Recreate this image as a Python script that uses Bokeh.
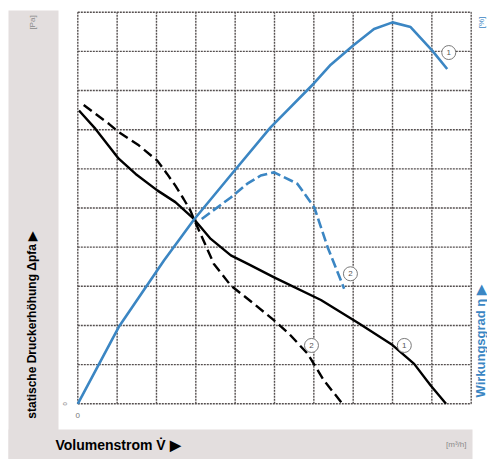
from bokeh.plotting import figure
from bokeh.models import Range1d
from bokeh.core.properties import value
from bokeh.embed import file_html
from bokeh.resources import INLINE

# ---------------- data (grid units, 0..10 on both axes) ----------------
grid_x = list(range(0, 11))
grid_y = list(range(0, 11))

# static pressure, curve 1 (solid black)
press1_x = [0.03, 0.45, 1.04, 1.47, 2.02, 2.48, 2.95, 3.38, 3.89, 4.31, 4.99, 6.18, 7.15, 8.0, 8.55, 8.97, 9.36]
press1_y = [7.49, 7.02, 6.26, 5.87, 5.45, 5.15, 4.72, 4.21, 3.79, 3.58, 3.23, 2.65, 2.05, 1.50, 1.02, 0.47, 0.0]

# static pressure, curve 2 (dashed black)
press2_x = [0.15, 0.79, 1.04, 1.55, 2.02, 2.27, 2.48, 2.69, 2.86, 2.95, 3.12, 3.46, 3.89, 4.48, 4.99, 5.37, 5.84, 6.26, 6.73]
press2_y = [7.63, 7.15, 6.94, 6.60, 6.21, 5.87, 5.57, 5.23, 4.94, 4.72, 4.34, 3.57, 3.02, 2.55, 2.13, 1.79, 1.28, 0.59, 0.0]

# efficiency, curve 1 (solid blue)
eff1_x = [0.0, 1.04, 2.19, 2.95, 3.88, 4.90, 6.0, 6.43, 7.0, 7.53, 8.0, 8.46, 9.01, 9.39]
eff1_y = [0.0, 1.96, 3.66, 4.70, 5.83, 7.06, 8.18, 8.66, 9.15, 9.57, 9.74, 9.62, 9.02, 8.55]

# efficiency, curve 2 (dashed blue)
eff2_x = [3.15, 3.89, 4.31, 4.65, 4.99, 5.58, 6.01, 6.35, 6.77]
eff2_y = [4.72, 5.27, 5.62, 5.83, 5.91, 5.62, 5.02, 4.00, 2.94]

# curve number markers
mark_x = [9.43, 6.93, 8.30, 5.94]
mark_y = [8.97, 3.32, 1.49, 1.49]
mark_text = ["1", "2", "1", "2"]

# ---------------- layout ----------------
W, H = 487, 459
X0, X1 = 77.3, 470.7      # canvas px of grid x = 0 and x = 10
Y0, Y1 = 403.3, 11.7      # canvas px of grid y = 0 and y = 10
SX = (X1 - X0) / 10.0
SY = (Y0 - Y1) / 10.0


def dx(px):
    return (px - X0) / SX


def dy(py):
    return (Y0 - py) / SY


BLUE = "#3b86c3"
GRAY_BAND = "#e3dede"
GRID = "#554f4f"
FONT = value("Liberation Sans")

p = figure(width=W, height=H,
           x_range=Range1d(dx(0), dx(W)), y_range=Range1d(dy(H), dy(0)),
           output_backend="svg", toolbar_location=None,
           x_axis_location=None, y_axis_location=None,
           min_border=0, outline_line_color=None)
p.xgrid.visible = False
p.ygrid.visible = False
p.background_fill_color = "white"
p.border_fill_color = "white"

# gray label bands (left and bottom)
p.quad(left=[dx(8), dx(8)], right=[dx(58), dx(472)],
       top=[dy(10), dy(429)], bottom=[dy(H), dy(H)],
       fill_color=GRAY_BAND, line_color=None)

# grid
p.segment(x0=grid_x, y0=[grid_y[0]] * len(grid_x), x1=grid_x, y1=[grid_y[-1]] * len(grid_x),
          line_color=GRID, line_width=1.4, line_dash="2 1")
p.segment(x0=[grid_x[0]] * len(grid_y), y0=grid_y, x1=[grid_x[-1]] * len(grid_y), y1=grid_y,
          line_color=GRID, line_width=1.4, line_dash="2 1")

# curves
p.line(press1_x, press1_y, line_color="black", line_width=2.4, line_join="round")
p.line(press2_x, press2_y, line_color="black", line_width=2.4, line_dash="10 5", line_join="round")
p.line(eff1_x, eff1_y, line_color=BLUE, line_width=2.6, line_join="round")
p.line(eff2_x, eff2_y, line_color=BLUE, line_width=2.6, line_dash="10 4", line_join="round")

# curve markers
p.scatter(mark_x, mark_y, size=14, fill_color="white", line_color="#7a7a7a", line_width=1)
p.text(mark_x, mark_y, text=mark_text, text_font=FONT, text_font_size="8px",
       text_color="#555555", text_align="center", text_baseline="middle")

# axis titles and units
p.text([dx(31.5)], [dy(323)], text=["statische Druckerhöhung  Δpfa ▶"], angle=1.5708,
       text_font=FONT, text_font_style="bold", text_font_size="12px", text_color="black",
       text_align="center", text_baseline="middle")
p.text([dx(32)], [dy(22)], text=["[Pa]"], angle=1.5708,
       text_font=FONT, text_font_size="8px", text_color="#8a8a8a",
       text_align="center", text_baseline="middle")
p.text([dx(55)], [dy(444)], text=["Volumenstrom V̇ ▶"],
       text_font=FONT, text_font_style="bold", text_font_size="14px", text_color="black",
       text_align="left", text_baseline="middle")
p.text([dx(466)], [dy(444)], text=["[m³/h]"],
       text_font=FONT, text_font_size="8px", text_color="#8a8a8a",
       text_align="right", text_baseline="middle")
p.text([dx(480)], [dy(339)], text=["Wirkungsgrad  η ▶"], angle=1.5708,
       text_font=FONT, text_font_style="bold", text_font_size="13px", text_color=BLUE,
       text_align="center", text_baseline="middle")
p.text([dx(481)], [dy(22)], text=["[%]"], angle=1.5708,
       text_font=FONT, text_font_size="8px", text_color=BLUE,
       text_align="center", text_baseline="middle")
p.text([grid_x[0]], [dy(415)], text=["0"],
       text_font=FONT, text_font_size="8px", text_color="#777777",
       text_align="center", text_baseline="middle")
p.text([dx(64)], [grid_y[0]], text=["0"], angle=1.5708,
       text_font=FONT, text_font_size="6px", text_color="#777777",
       text_align="center", text_baseline="middle")

open("out.html", "w").write(file_html(p, INLINE))
